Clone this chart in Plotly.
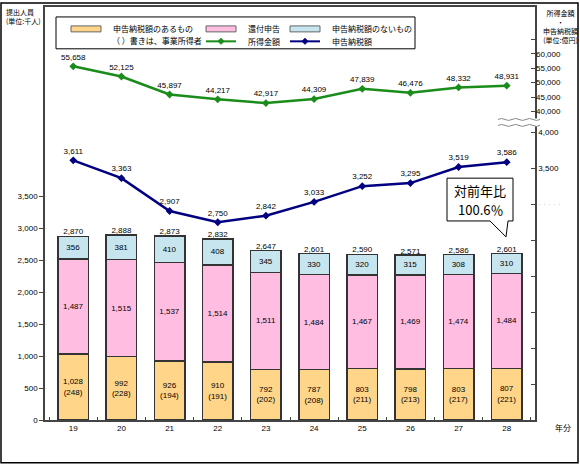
import plotly.graph_objects as go

# ---------------- data ----------------
years = ["19", "20", "21", "22", "23", "24", "25", "26", "27", "28"]
tax_payers = [1028, 992, 926, 910, 792, 787, 803, 798, 803, 807]          # 申告納税額のあるもの
business = [248, 228, 194, 191, 202, 208, 211, 213, 217, 221]            # （ ）書きは、事業所得者
refund = [1487, 1515, 1537, 1514, 1511, 1484, 1467, 1469, 1474, 1484]    # 還付申告
no_tax = [356, 381, 410, 408, 345, 330, 320, 315, 308, 310]              # 申告納税額のないもの
totals = [2870, 2888, 2873, 2832, 2647, 2601, 2590, 2571, 2586, 2601]
income = [55658, 52125, 45897, 44217, 42917, 44309, 47839, 46476, 48332, 48931]  # 所得金額
tax_amount = [3611, 3363, 2907, 2750, 2842, 3033, 3252, 3295, 3519, 3586]        # 申告納税額

left_ticks = [0, 500, 1000, 1500, 2000, 2500, 3000, 3500]
tax_ticks = [0, 500, 1000, 1500, 2000, 2500, 3000, 3500, 4000]
income_ticks = [40000, 45000, 50000, 55000, 60000, 65000]

names = ["申告納税額のあるもの", "還付申告", "申告納税額のないもの",
         "（ ）書きは、事業所得者", "所得金額", "申告納税額"]
callout_lines = ["対前年比", "100.6％"]

# ---------------- layout helpers ----------------
W, H = 580, 465
PL, PR, PT, PB = 45, 535, 5, 420
PW, PH = PR - PL, PB - PT


def xp(px):
    return (px - PL) / PW


def yp(py):
    return (PB - py) / PH


NUM_FONT = "Liberation Sans, Arial, sans-serif"
JP_FONT = "Noto Sans CJK JP, sans-serif"

ORANGE = "#FFD58A"
PINK = "#FFBDE2"
BLUE = "#C6E5EF"
GREEN = "#1A8C1A"
NAVY = "#000080"

fmt = lambda v: f"{v:,}"

fig = go.Figure()

bar_line = dict(color="#333333", width=1.5)
fig.add_trace(go.Bar(
    x=years, y=tax_payers, name=names[0],
    marker=dict(color=ORANGE, line=bar_line),
    text=[f"{fmt(a)}<br>({b})" for a, b in zip(tax_payers, business)],
    textposition="inside", insidetextanchor="middle", textangle=0,
    constraintext="none",
    textfont=dict(family=NUM_FONT, size=8, color="black"),
    hoverinfo="skip",
))
fig.add_trace(go.Bar(
    x=years, y=refund, name=names[1],
    marker=dict(color=PINK, line=bar_line),
    text=[fmt(v) for v in refund],
    textposition="inside", insidetextanchor="middle", textangle=0,
    constraintext="none",
    textfont=dict(family=NUM_FONT, size=8, color="black"),
    hoverinfo="skip",
))
fig.add_trace(go.Bar(
    x=years, y=no_tax, name=names[2],
    marker=dict(color=BLUE, line=bar_line),
    text=[fmt(v) for v in no_tax],
    textposition="inside", insidetextanchor="middle", textangle=0,
    constraintext="none",
    textfont=dict(family=NUM_FONT, size=8, color="black"),
    hoverinfo="skip",
))
fig.add_trace(go.Scatter(
    x=years, y=income, name=names[4], yaxis="y3",
    mode="lines+markers+text",
    line=dict(color=GREEN, width=2.5),
    marker=dict(symbol="diamond", size=6, color=GREEN),
    text=[fmt(v) for v in income], textposition="top center",
    textfont=dict(family=NUM_FONT, size=8, color="black"),
    cliponaxis=False, hoverinfo="skip",
))
fig.add_trace(go.Scatter(
    x=years, y=tax_amount, name=names[5], yaxis="y2",
    mode="lines+markers+text",
    line=dict(color=NAVY, width=2.5),
    marker=dict(symbol="diamond", size=6, color=NAVY),
    text=[fmt(v) for v in tax_amount], textposition="top center",
    textfont=dict(family=NUM_FONT, size=8, color="black"),
    cliponaxis=False, hoverinfo="skip",
))
# totals above bars
fig.add_trace(go.Scatter(
    x=years, y=totals, mode="text",
    text=[fmt(v) for v in totals], textposition="top center",
    textfont=dict(family=NUM_FONT, size=8, color="black"),
    cliponaxis=False, hoverinfo="skip",
))

# axis scales (pixels per unit)
left_scale = (420 - 195) / 3500
tax_scale = (420 - 131) / 4000
inc_scale = (110 - 52) / 20000
y_range = [0, PH / left_scale]
y2_range = [0, PH / tax_scale]
y3_range = [40000 - (PB - 110) / inc_scale, 60000 + (52 - PT) / inc_scale]

axis_line = dict(showline=True, linecolor="#444444", linewidth=1.5)
tick_font = dict(family=NUM_FONT, size=8, color="black")

tax_text = []
for v in tax_ticks:
    if v >= 3500:
        tax_text.append(fmt(v))
    elif v == 3000:
        tax_text.append("<span style='color:#bbbbbb'>· · · · ·</span>")
    else:
        tax_text.append("")
inc_text = [fmt(v) if v <= 60000 else "" for v in income_ticks]

fig.update_layout(
    width=W, height=H,
    margin=dict(l=PL, r=W - PR, t=PT, b=H - PB),
    paper_bgcolor="white", plot_bgcolor="white",
    barmode="stack", bargap=0.37,
    font=dict(family=JP_FONT, size=8, color="black"),
    showlegend=False,
    xaxis=dict(
        type="category", **axis_line, mirror=True,
        ticks="inside", ticklen=3, tickson="boundaries", tickcolor="#444444",
        tickfont=dict(family=NUM_FONT, size=8, color="black"),
        showgrid=False, zeroline=False,
    ),
    yaxis=dict(
        range=y_range, tickvals=left_ticks, ticktext=[fmt(v) for v in left_ticks],
        **axis_line, ticks="outside", ticklen=4, tickcolor="#444444",
        tickfont=tick_font, showgrid=False, zeroline=False,
    ),
    yaxis2=dict(
        range=y2_range, overlaying="y", side="right", anchor="x",
        tickvals=tax_ticks, ticktext=tax_text,
        **axis_line, ticks="inside", ticklen=4, tickcolor="#444444",
        tickfont=tick_font, showgrid=False, zeroline=False,
    ),
    yaxis3=dict(
        range=y3_range, overlaying="y", side="right", anchor="x",
        tickvals=income_ticks, ticktext=inc_text,
        showline=False, ticks="inside", ticklen=4, tickcolor="#444444",
        tickfont=tick_font, showgrid=False, zeroline=False,
    ),
)

shapes = []
annotations = []


def prect(x0, y0, x1, y1, **kw):
    return dict(type="rect", xref="paper", yref="paper",
                x0=xp(x0), x1=xp(x1), y0=yp(y1), y1=yp(y0), **kw)


# outer frame
shapes.append(prect(1, 1, 578, 463, line=dict(color="black", width=1.5),
                    fillcolor="rgba(0,0,0,0)"))

# ---- manual legend ----
shapes.append(prect(56, 15, 415, 47, line=dict(color="black", width=1),
                    fillcolor="white", layer="above"))
swatches = [(71, ORANGE, names[0]), (206, PINK, names[1]), (290, BLUE, names[2])]
for sx, col, nm in swatches:
    shapes.append(prect(sx, 24, sx + 30, 30, line=dict(color="#666666", width=1),
                        fillcolor=col, layer="above"))
    annotations.append(dict(x=xp(sx + 40), y=yp(27), xref="paper", yref="paper",
                            xanchor="left", yanchor="middle", text=nm, showarrow=False,
                            font=dict(family=JP_FONT, size=8, color="black")))
annotations.append(dict(x=xp(110), y=yp(38.5), xref="paper", yref="paper",
                        xanchor="left", yanchor="middle", text=names[3], showarrow=False,
                        font=dict(family=JP_FONT, size=8, color="black")))
for sx, col, nm in [(206, GREEN, names[4]), (290, NAVY, names[5])]:
    shapes.append(dict(type="line", xref="paper", yref="paper",
                       x0=xp(sx), x1=xp(sx + 30), y0=yp(39.5), y1=yp(39.5),
                       line=dict(color=col, width=2), layer="above"))
    cx, cy = sx + 15, 39.5
    dpath = (f"M {xp(cx - 3)},{yp(cy)} L {xp(cx)},{yp(cy - 3)} "
             f"L {xp(cx + 3)},{yp(cy)} L {xp(cx)},{yp(cy + 3)} Z")
    shapes.append(dict(type="path", xref="paper", yref="paper", path=dpath,
                       line=dict(color=col, width=1), fillcolor=col, layer="above"))
    annotations.append(dict(x=xp(sx + 40), y=yp(39.5), xref="paper", yref="paper",
                            xanchor="left", yanchor="middle", text=nm, showarrow=False,
                            font=dict(family=JP_FONT, size=8, color="black")))

# axis break
shapes.append(prect(530, 117, 541, 125, line=dict(width=0), fillcolor="white", layer="above"))


def wave(py):
    x0 = 498
    seg = 7
    d = f"M {xp(x0)},{yp(py)}"
    for i in range(6):
        xa = x0 + i * seg
        amp = -2 if i % 2 == 0 else 2
        d += f" Q {xp(xa + seg / 2)},{yp(py + amp)} {xp(xa + seg)},{yp(py)}"
    return d


for py in (118, 124):
    shapes.append(dict(type="path", xref="paper", yref="paper", path=wave(py),
                       line=dict(color="#888888", width=1), layer="above"))

# callout bubble
bubble = [(447, 177), (513, 177), (513, 220), (508, 220), (506, 236), (490, 220), (447, 220)]
path = "M " + " L ".join(f"{xp(a)},{yp(b)}" for a, b in bubble) + " Z"
shapes.append(dict(type="path", xref="paper", yref="paper", path=path,
                   line=dict(color="black", width=1), fillcolor="white", layer="above"))

for line_text, cy in zip(callout_lines, (189.5, 208.5)):
    annotations.append(dict(x=xp(480), y=yp(cy), xref="paper", yref="paper",
                            xanchor="center", yanchor="middle", text=line_text,
                            showarrow=False,
                            font=dict(family=JP_FONT, size=13, color="black")))

annotations += [
    dict(x=xp(4), y=yp(3), xref="paper", yref="paper", xanchor="left", yanchor="top",
         text="提出人員<br>(単位:千人)", showarrow=False, align="left",
         font=dict(family=JP_FONT, size=7, color="black")),
    dict(x=xp(560), y=yp(4), xref="paper", yref="paper", xanchor="center", yanchor="top",
         text="所得金額<br>・<br>申告納税額<br>(単位:億円)", showarrow=False, align="center",
         font=dict(family=JP_FONT, size=7, color="black")),
    dict(x=xp(553), y=yp(428), xref="paper", yref="paper", xanchor="left", yanchor="middle",
         text="年分", showarrow=False,
         font=dict(family=JP_FONT, size=8, color="black")),
]

fig.update_layout(shapes=shapes, annotations=annotations)

fig.write_html("out.html", config={"displayModeBar": False},
               post_script="document.body.style.margin='0px';")
